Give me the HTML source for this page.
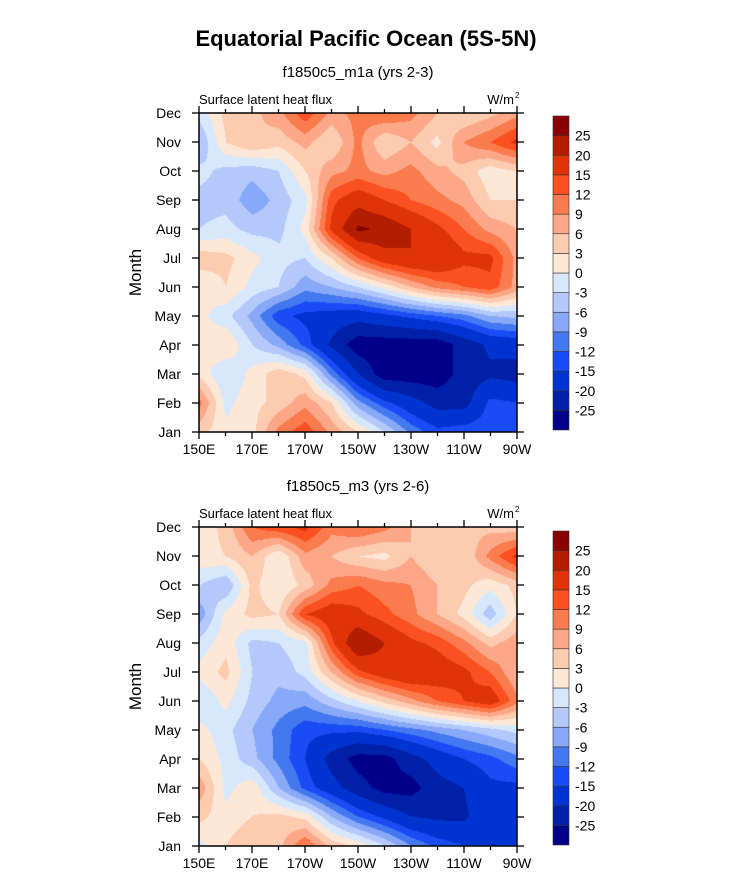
<!DOCTYPE html>
<html><head><meta charset="utf-8">
<style>
body{margin:0;background:#fff;width:733px;height:890px;overflow:hidden;font-family:"Liberation Sans",Arial,sans-serif;}
#root{position:relative;width:733px;height:890px;}
svg{position:absolute;left:0;top:0}
canvas{position:absolute}
</style></head>
<body><div id="root">
<canvas id="c1" width="318" height="319" style="left:199px;top:113px"></canvas>
<canvas id="c2" width="318" height="319" style="left:199px;top:527px"></canvas>
<svg id="s" width="733" height="890"></svg>
</div>
<script>
const months=["Jan","Feb","Mar","Apr","May","Jun","Jul","Aug","Sep","Oct","Nov","Dec"];
const lonLabels=["150E","170E","170W","150W","130W","110W","90W"];
const levels=[-25,-20,-15,-12,-9,-6,-3,0,3,6,9,12,15,20,25];
const colors=["#00008a","#0020a8","#0034d0","#1a4cf5","#4478f0","#88a8f8","#b4c8fc","#d8e8fc","#fde8d8","#fdcbb0","#fca888","#fa7b4e","#fb5020","#e03408","#b41e00","#8a0000"];
// rows Jan..Dec, cols 150E..90W every 10 deg
const dataM1a=[
[4,1,2,10,14,8,3,-3,-10,-14,-13,-13,-15],
[10,-1,2,4,8,3,-8,-14,-18,-22,-22,-14,-15],
[2,-3,1,5,2,-10,-20,-28,-28,-28,-23,-21,-22],
[1,3,-3,-7,-13,-21,-28,-28,-28,-28,-23,-19,-18],
[1,-2,-7,-14,-16,-17,-18,-16,-14,-12,-10,-6,-5],
[0,3,-1,-3,-8,-6,-3,1,6,10,12,14,8],
[5,4,1,-2,-3,3,12,18,20,20,16,16,8],
[-3,-2,-4,-4,1,16,26,24,20,16,12,8,6],
[-4,-4,-8,-5,-1,14,18,15,12,10,8,3,3],
[-2,-4,-5,-3,3,8,10,8,10,7,5,1,3],
[-6,3,6,4,7,3,10,3,6,2,9,12,16],
[-2,4,5,8,14,8,10,12,10,6,3,5,8]];
const dataM3=[
[-1,3,6,5,12,5,2,-3,-9,-13,-15,-15,-15],
[4,1,3,4,2,-6,-12,-16,-20,-21,-21,-16,-15],
[8,-1,2,-6,-13,-18,-23,-27,-27,-22,-20,-16,-16],
[3,-1,-5,-10,-15,-22,-27,-27,-22,-18,-15,-13,-10],
[1,-2,-6,-10,-14,-14,-14,-12,-10,-8,-6,-4,-2],
[-3,1,-4,-7,-8,-4,0,4,8,12,15,18,10],
[1,4,-3,-5,-2,6,14,18,20,18,16,12,6],
[-2,2,-4,-3,-1,14,25,20,16,14,10,5,8],
[-8,1,4,3,15,18,16,13,10,6,2,-5,3],
[-3,-6,4,0,4,10,12,10,9,6,4,1,4],
[2,3,6,0,8,6,3,2,6,3,3,10,16],
[1,4,12,14,16,10,12,10,6,3,5,5,4]];

function colorFor(v){let i=0;while(i<levels.length&&v>=levels[i])i++;return colors[i];}
function drawMap(id,data){
  const cv=document.getElementById(id),ctx=cv.getContext('2d');
  const W=cv.width,H=cv.height,nr=data.length,nc=data[0].length;
  for(let py=0;py<H;py++)for(let px=0;px<W;px++){
    const fx=px/(W-1)*(nc-1),fy=(H-1-py)/(H-1)*(nr-1);
    const x0=Math.min(Math.floor(fx),nc-2),y0=Math.min(Math.floor(fy),nr-2);
    const tx=fx-x0,ty=fy-y0;
    const v=(data[y0][x0]*(1-tx)+data[y0][x0+1]*tx)*(1-ty)+(data[y0+1][x0]*(1-tx)+data[y0+1][x0+1]*tx)*ty;
    ctx.fillStyle=colorFor(v);ctx.fillRect(px,py,1,1);
  }
}
drawMap('c1',dataM1a);drawMap('c2',dataM3);

const s=document.getElementById('s');const NS='http://www.w3.org/2000/svg';
function el(t,a,txt){const e=document.createElementNS(NS,t);for(const k in a)e.setAttribute(k,a[k]);if(txt!==undefined)e.textContent=txt;s.appendChild(e);return e;}
let t=el('text',{x:366,y:46,'text-anchor':'middle','font-size':22,'font-weight':'bold'},'Equatorial Pacific Ocean (5S-5N)');



function panel(top,name,cbTop){
  const L=199,R=517,T=top,B=top+319;
  let e=el('text',{x:358,y:T-36,'text-anchor':'middle','font-size':15},name);
  
  
  e=el('text',{x:L,y:T-9,'font-size':13},'Surface latent heat flux');
  
  
  e=el('text',{x:R-3,y:T-9,'text-anchor':'end','font-size':13},'W/m');
  
  
  el('text',{x:R-2,y:T-15,'font-size':8},'2');
  e=el('rect',{x:L,y:T,width:R-L,height:B-T,fill:'none',stroke:'#000','stroke-width':1.5});
  
  
  const yS=i=>B-i*(B-T)/11;
  months.forEach((m,i)=>{const y=yS(i);
    el('line',{x1:L-7,x2:L,y1:y,y2:y,stroke:'#000','stroke-width':1.3});
    el('line',{x1:R,x2:R+7,y1:y,y2:y,stroke:'#000','stroke-width':1.3});
    const tx=el('text',{x:181,y:y+5,'text-anchor':'end','font-size':14},m);
    
    
  });
  const xS=d=>L+d*(R-L)/120;
  for(let d=0;d<=120;d+=10){const maj=d%20==0,len=maj?7:4;
    el('line',{x1:xS(d),x2:xS(d),y1:B,y2:B+len,stroke:'#000','stroke-width':1.3});
    el('line',{x1:xS(d),x2:xS(d),y1:T-len,y2:T,stroke:'#000','stroke-width':1.3});
  }
  lonLabels.forEach((l,i)=>{const tx=el('text',{x:xS(i*20),y:B+22,'text-anchor':'middle','font-size':14},l);
    
    });
  e=el('text',{x:0,y:0,'font-size':17,'text-anchor':'middle',transform:`translate(141,${(T+B)/2}) rotate(-90)`},'Month');
  
  
  const h=(314)/colors.length;
  colors.forEach((c,i)=>{const r=el('rect',{x:553,y:cbTop+(colors.length-1-i)*h,width:16,height:h,fill:c,stroke:'#333','stroke-width':0.6});
    
    });
  levels.forEach((v,i)=>{const y=cbTop+(colors.length-1-i)*h;
    const tx=el('text',{x:575,y:y+5,'font-size':14},String(v));
    
    });
}
panel(113,'f1850c5_m1a (yrs 2-3)',116);
panel(527,'f1850c5_m3 (yrs 2-6)',531);
</script></body></html>
